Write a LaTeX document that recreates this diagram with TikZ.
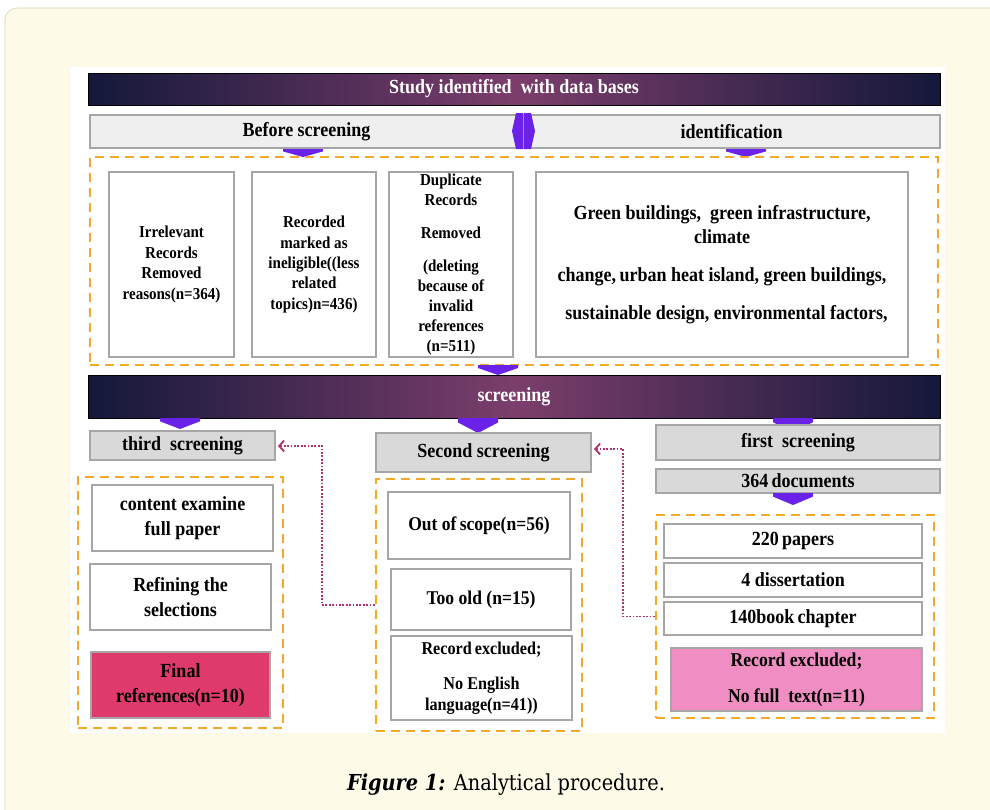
\documentclass[tikz,border=0pt]{standalone}
\usepackage{fontspec}
\setmainfont{Liberation Serif}[FakeStretch=0.9]
\newfontfamily\capfont{DejaVu Serif}[FakeStretch=0.88]
\usetikzlibrary{arrows.meta}

\definecolor{pagewhite}{HTML}{FFFFFF}
\definecolor{cream}{HTML}{FEFAE8}
\definecolor{creamline}{HTML}{E9E4D1}
\definecolor{navy}{HTML}{14183A}
\definecolor{plum}{HTML}{7C3E6C}
\definecolor{lightbar}{HTML}{EFEFEF}
\definecolor{graybar}{HTML}{D9D9D9}
\definecolor{edge}{HTML}{A6A6A6}
\definecolor{dashorange}{HTML}{F4A82A}
\definecolor{violet}{HTML}{6A21E8}
\definecolor{dotpink}{HTML}{B2326F}
\definecolor{crimson}{HTML}{E03A6C}
\definecolor{rosepink}{HTML}{F08DC2}

% purple down-pointing marker: left x, top y, height
\newcommand\downmark[3]{%
  \fill[violet] (#1,#2) -- ++(40,0) -- ++(0,#3*0.3) -- ++(-20,#3*0.7)
    -- ++(-20,-#3*0.7) -- cycle;}

\tikzset{
  fs/.style 2 args={font=\bfseries\fontsize{#1}{#2}\selectfont},
  bar/.style={draw=black, line width=1pt, left color=navy, right color=navy,
    middle color=plum, text=white, inner sep=0, fs={20}{24}},
  hdr/.style={draw=edge, line width=1.8pt, fill=lightbar, inner sep=0, fs={20}{24}},
  tab/.style={draw=edge, line width=1.8pt, fill=graybar, inner sep=0, fs={20}{24}},
  cell/.style={draw=edge, line width=1.8pt, fill=white, align=center, inner sep=0},
  group/.style={draw=dashorange, line width=2.3pt, dash pattern=on 9pt off 6pt},
  link/.style={draw=dotpink, line width=1.8pt, dash pattern=on 1.8pt off 1.6pt,
    -{Straight Barb[length=5pt,width=11pt,line width=1.8pt]}, shorten >=2pt},
}

\begin{document}
\begin{tikzpicture}[x=1pt,y=-1pt]
\useasboundingbox (0,0) rectangle (990,809);

% page and panel
\begin{scope}
\clip (0,0) rectangle (990,809);
\fill[pagewhite] (0,0) rectangle (990,809);
\filldraw[fill=cream, draw=creamline, line width=1.2pt, rounded corners=12pt]
  (5,8) rectangle (1010,830);
\end{scope}
\fill[white] (70,67) rectangle (945,733);

% identification stage
\node[bar, minimum width=852, minimum height=32] (study) at (514,89)
  {Study identified\ \ with data bases};
\node[hdr, minimum width=433, minimum height=33] (before) at (306.5,131.5) {Before screening};
\node[hdr, minimum width=417, minimum height=33] (ident) at (731.5,131.5) {identification};
\fill[violet] (523,113) -- (516,113) -- (512,131) -- (516,149) -- (523,149) -- cycle;
\fill[violet] (524,113) -- (531,113) -- (535,131) -- (531,149) -- (524,149) -- cycle;
\downmark{283}{149}{8}
\downmark{726}{149}{8}

\node[group, minimum width=848, minimum height=208] (idgroup) at (514,261) {};
\node[cell, minimum width=125, minimum height=185, fs={16.7}{20.5}] (irrel) at (171.5,264.5)
  {Irrelevant\\Records\\Removed\\reasons(n=364)};
\node[cell, minimum width=124, minimum height=185, fs={16.7}{20.3}] (inelig) at (314,264.5)
  {Recorded\\marked as\\ineligible((less\\related\\topics)n=436)};
\node[cell, minimum width=124, minimum height=185, fs={16.7}{20}] (dupl) at (451,264.5)
  {Duplicate\\Records\\[13pt]Removed\\[13pt](deleting\\because of\\invalid\\references\\(n=511)};
\node[cell, minimum width=372, minimum height=185, fs={20}{24}] (topics) at (722,264.5)
  {Green buildings,\ \ green infrastructure,\\climate\\[14pt]change,\,urban\ heat island, green buildings,\\[14pt]\ \ sustainable design,\ environmental\ factors,};
\downmark{478}{365}{10}

% screening stage
\node[bar, minimum width=852, minimum height=43] (screen) at (514,396.5) {screening};
\downmark{160}{418}{11}
\downmark{458}{418}{15}
\downmark{773}{418}{14}

\node[tab, minimum width=185, minimum height=29] (third) at (182.5,445.5) {third\ \ screening};
\node[tab, minimum width=215, minimum height=39] (second) at (483.5,452.5) {Second screening};
\node[tab, minimum width=284, minimum height=35] (first) at (798,442.5) {first\ \ screening};
\node[tab, minimum width=284, minimum height=24] (docs) at (798,481) {364\,documents};
\downmark{773}{493}{12}

% third screening column
\node[group, minimum width=205, minimum height=251] (g3) at (180.5,602.5) {};
\node[cell, minimum width=181, minimum height=66, fs={20}{25}] (content) at (182.5,518)
  {content examine\\full paper};
\node[cell, minimum width=181, minimum height=66, fs={20}{25}] (refine) at (180.5,597)
  {Refining the\\selections};
\node[cell, fill=crimson, minimum width=179, minimum height=66, fs={20}{25}] (final) at (180.5,685)
  {Final\\references(n=10)};

% second screening column
\node[group, minimum width=206, minimum height=252] (g2) at (479,605) {};
\node[cell, minimum width=182, minimum height=67, fs={19.5}{24}] (scope) at (479,525.5)
  {Out of\,scope(n=56)};
\node[cell, minimum width=180, minimum height=61, fs={19.5}{24}] (old) at (481,599.5)
  {Too old (n=15)};
\node[cell, minimum width=181, minimum height=84, fs={18}{21}] (lang) at (481.5,678)
  {Record\,excluded;\\[14pt]No English\\language(n=41))};

% first screening column
\node[group, minimum width=278, minimum height=203] (g1) at (795,616.5) {};
\node[cell, minimum width=258, minimum height=34, fs={20}{24}] (papers) at (793,541) {220\,papers};
\node[cell, minimum width=258, minimum height=34, fs={20}{24}] (diss) at (793,580) {4 dissertation};
\node[cell, minimum width=258, minimum height=33, fs={20}{24}] (book) at (793,618.5) {140book\,chapter};
\node[cell, fill=rosepink, minimum width=251, minimum height=63, fs={19.6}{24}] (nofull) at (796.5,679.5)
  {Record excluded;\\[12pt]No full\ \ text(n=11)};

% dotted feedback links
\coordinate (bend3) at (322,446);
\coordinate (bend2) at (623,449);
\draw[link] (g2.west) -| (bend3) -- (third.east |- bend3);
\draw[link] (g1.west) -| (bend2) -- (second.east |- bend2);

% caption
\node (caption) at (506,785)
  {\capfont\fontsize{22}{26}\selectfont\textbf{\textit{Figure 1:}} Analytical procedure.};
\end{tikzpicture}
\end{document}
